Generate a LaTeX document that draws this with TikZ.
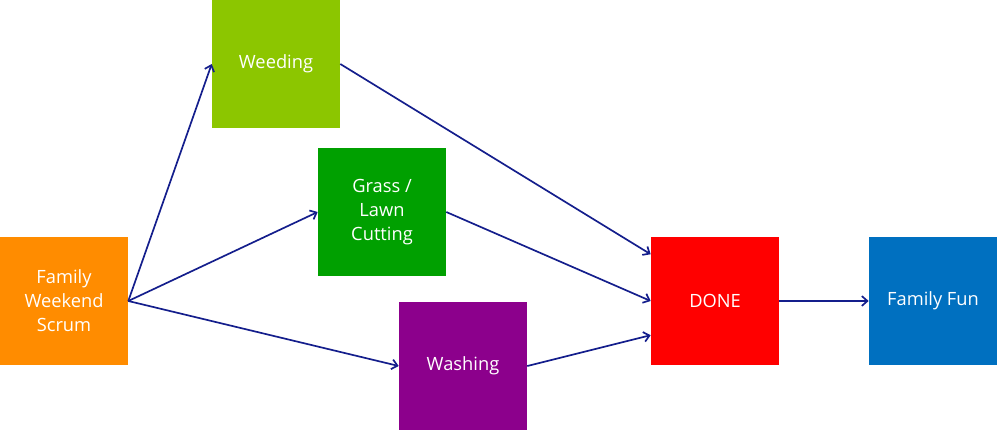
\documentclass[tikz,border=0pt]{standalone}
\usepackage{fontspec}
\setmainfont{Open Sans}
\usetikzlibrary{arrows.meta}
\definecolor{lime}{RGB}{140,198,0}
\definecolor{grassgreen}{RGB}{0,160,0}
\definecolor{washpurple}{RGB}{140,0,140}
\definecolor{scrumorange}{RGB}{255,140,0}
\definecolor{funblue}{RGB}{0,112,192}
\definecolor{arrowblue}{RGB}{20,30,140}
\begin{document}
\begin{tikzpicture}[
        x=0.025cm, y=-0.025cm,
        task/.style={rectangle, minimum width=3.2cm, minimum height=3.2cm, inner sep=2pt, align=center, text=white, font=\fontsize{13}{17}\selectfont},
        arrow/.style={-{Straight Barb[length=4pt,width=7pt]}, draw=arrowblue, line width=1.2pt}
    ]
        \useasboundingbox (0,0) rectangle (1005,431);
        % Tasks
        \node[task, fill=scrumorange] (scrum) at (64,301) {Family\\Weekend\\Scrum};
        \node[task, fill=lime] (weed) at (276,64) {Weeding};
        \node[task, fill=grassgreen] (grass) at (382,212) {Grass /\\Lawn\\Cutting};
        \node[task, fill=washpurple] (wash) at (463,366) {Washing};
        \node[task, fill=red] (done) at (715,301) {DONE};
        \node[task, fill=funblue] (fun) at (933,301) {Family Fun};

        % Arrows
        \draw[arrow] (scrum.east) -- (weed.west);
        \draw[arrow] (scrum.east) -- (grass.west);
        \draw[arrow] (scrum.east) -- (wash.west);
        \draw[arrow] (weed.east) -- (done.144);
        \draw[arrow] (grass.east) -- (done.west);
        \draw[arrow] (wash.east) -- (done.208);
        \draw[arrow] (done.east) -- (fun.west);
    \end{tikzpicture}
\end{document}
